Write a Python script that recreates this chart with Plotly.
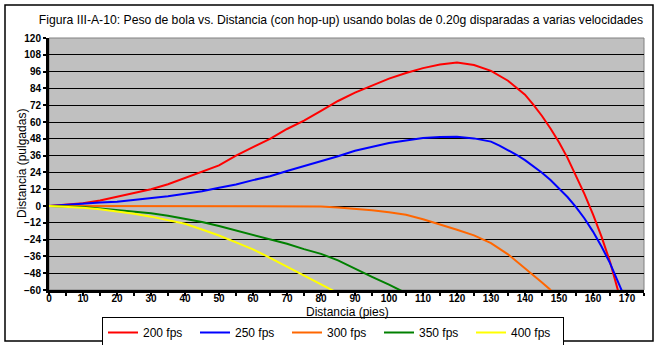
import plotly.graph_objects as go

# ---- data ----
x_200 = [0, 5, 10, 15, 20, 25, 30, 35, 40, 45, 50, 55, 60, 65, 70, 75, 80, 85, 90, 95, 100, 105, 110, 115, 120, 125, 130, 135, 140, 142.5, 145, 147.5, 150, 152.5, 155, 157.5, 160, 162.5, 165, 167, 168]
y_200 = [0, 0.8, 2, 4, 6.5, 9, 12, 15.5, 20, 24.5, 29, 36, 42, 48, 55, 61, 68, 75, 81, 86, 91, 95, 98.5, 101, 102.5, 100.7, 96.5, 89.5, 79.5, 72.2, 64.3, 55.4, 45.5, 34.4, 22, 8.5, -6, -21.9, -39.8, -56.3, -66]

x_250 = [0, 5, 10, 15, 20, 25, 30, 35, 40, 45, 50, 55, 60, 65, 70, 75, 80, 85, 90, 95, 100, 105, 110, 115, 120, 125, 130, 132.5, 135, 137.5, 140, 142.5, 145, 147.5, 150, 152.5, 155, 157.5, 160, 162.5, 165, 167.5, 169]
y_250 = [0, 0.8, 2, 2.5, 3, 4.2, 5.5, 7, 8.7, 10.5, 13, 15.3, 18.5, 21.2, 25, 28.5, 31.8, 35.5, 39.5, 42.5, 45, 46.8, 48.5, 49.3, 49.5, 48.3, 46, 43.1, 40, 36.6, 32.8, 28.5, 23.8, 18.5, 12.8, 6.4, -0.8, -8.9, -18.3, -28.9, -40.8, -54.3, -63.5]

x_300 = [0, 5, 10, 15, 20, 25, 30, 35, 40, 45, 50, 55, 60, 65, 70, 75, 80, 85, 90, 95, 100, 105, 110, 115, 120, 125, 130, 135, 140, 145, 147.3, 148]
y_300 = [0, 0, 0, 0, 0, 0, 0, 0, 0, 0, 0, 0, 0, 0, 0, 0, -0.3, -1, -1.8, -3, -4.4, -6.3, -9.5, -13, -17, -21, -26.5, -34.5, -44.3, -54.6, -59.5, -61.5]

x_350 = [0, 5, 10, 15, 20, 25, 30, 35, 40, 45, 50, 55, 60, 65, 70, 75, 80, 85, 90, 95, 100, 103, 104]
y_350 = [0, -0.2, -0.8, -1.7, -2.8, -4, -5.2, -7, -9, -11.4, -14.3, -17.5, -20.5, -23.6, -27, -30.8, -34.2, -38.8, -44.8, -50.6, -56.2, -59.7, -61]

x_400 = [0, 5, 10, 15, 20, 25, 30, 35, 40, 45, 50, 55, 60, 65, 70, 75, 80, 83, 84]
y_400 = [0, -0.5, -1.3, -2.4, -3.9, -5.6, -7.6, -10, -12.7, -16.8, -21.1, -26, -31, -37, -43.2, -49.3, -55.7, -59.5, -61]

series_names = ["200 fps", "250 fps", "300 fps", "350 fps", "400 fps"]
series_colors = ["#FF0000", "#0000FF", "#FF6600", "#008000", "#FFFF00"]
series_x = [x_200, x_250, x_300, x_350, x_400]
series_y = [y_200, y_250, y_300, y_350, y_400]

y_ticks = list(range(-60, 121, 12))
x_ticks = list(range(0, 171, 10))

title_text = "Figura III-A-10: Peso de bola vs. Distancia (con hop-up) usando bolas de 0.20g disparadas a varias velocidades"
x_title = "Distancia (pies)"
y_title = "Distancia (pulgadas)"

# ---- figure ----
W, H = 659, 345
L, R, T, B = 49, 15, 38, 55
pw, ph = W - L - R, H - T - B

def px_x(p):
    return (p - L) / pw

def px_y(p):
    return (H - B - p) / ph

fig = go.Figure()
for name, col, xs, ys in zip(series_names, series_colors, series_x, series_y):
    fig.add_trace(go.Scatter(x=xs, y=ys, mode="lines", name=name,
                             line=dict(color=col, width=2)))

FONT = "Liberation Sans"

fig.update_layout(
    width=W, height=H,
    margin=dict(l=L, r=R, t=T, b=B, pad=0, autoexpand=False),
    paper_bgcolor="white",
    plot_bgcolor="#C0C0C0",
    font=dict(family=FONT, size=12, color="black"),
    title=dict(text=title_text, x=341 / W, xanchor="center", xref="container",
               y=1 - 20 / H, yanchor="middle", yref="container",
               font=dict(family=FONT, size=12.2, color="black")),
    showlegend=True,
    legend=dict(orientation="h", xref="container", yref="container",
                x=102 / W, y=1 - 317 / H, xanchor="left", yanchor="top",
                bordercolor="black", borderwidth=1, bgcolor="white",
                entrywidth=47, entrywidthmode="pixels",
                font=dict(family=FONT, size=12, color="black"),
                traceorder="normal"),
    xaxis=dict(range=[0, 175], tickmode="array", tickvals=x_ticks, automargin=False,
               ticks="outside", ticklen=3, tickwidth=2, tickcolor="black",
               ticklabelstandoff=-6,
               showgrid=False, zeroline=False,
               showline=True, linecolor="black", linewidth=3,
               tickfont=dict(family=FONT, size=10, color="black", weight="bold"),
               minor=dict(dtick=5, tick0=0, ticks="outside", ticklen=3, tickwidth=2, tickcolor="black", showgrid=False)),
    yaxis=dict(range=[-60, 120], tickmode="array", tickvals=y_ticks, automargin=False,
               ticks="outside", ticklen=3, tickwidth=2, tickcolor="black",
               showgrid=True, gridcolor="black", gridwidth=1, zeroline=False,
               showline=True, linecolor="black", linewidth=3,
               tickfont=dict(family=FONT, size=10, color="black", weight="bold")),
    annotations=[
        dict(text=x_title, xref="paper", yref="paper", x=px_x(347), y=px_y(312),
             xanchor="center", yanchor="middle", showarrow=False,
             font=dict(family=FONT, size=12, color="black")),
        dict(text=y_title, xref="paper", yref="paper", x=px_x(22), y=0.5,
             xanchor="center", yanchor="middle", showarrow=False, textangle=-90,
             font=dict(family=FONT, size=12, color="black")),
    ],
    shapes=[
        dict(type="rect", xref="paper", yref="paper", x0=0, x1=1, y0=0, y1=1,
             line=dict(color="#808080", width=1), layer="below"),
        dict(type="rect", xref="paper", yref="paper",
             x0=px_x(5), x1=px_x(653), y0=px_y(341), y1=px_y(5),
             line=dict(color="black", width=1.5), layer="below"),
    ],
)

fig.write_html("out.html")
